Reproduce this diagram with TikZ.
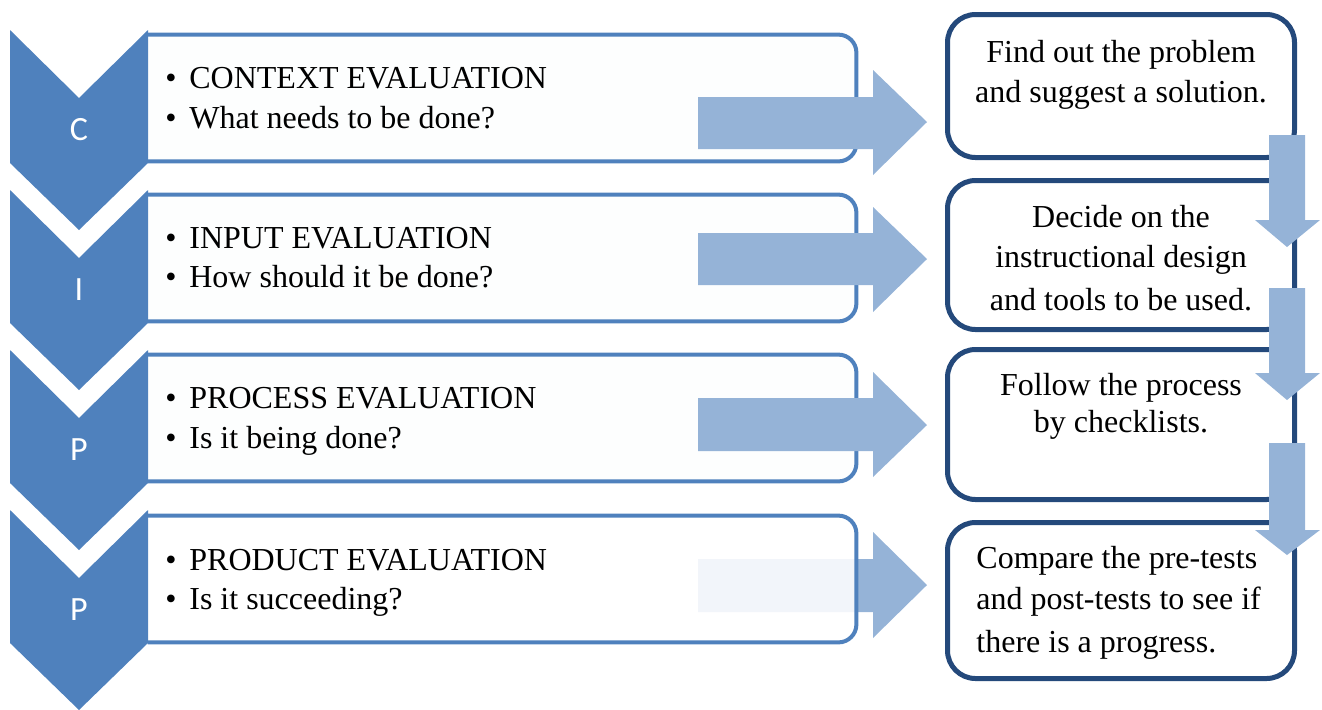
\documentclass[tikz,border=0pt]{standalone}
\usepackage{fontspec}
\setmainfont{Liberation Serif}
\newfontfamily\chevfont{Carlito}
\definecolor{chevblue}{HTML}{4F81BD}
\definecolor{arrowblue}{HTML}{95B3D7}
\definecolor{darkblue}{HTML}{24497B}
\tikzset{
  evalbox/.style={minimum width=354pt, minimum height=63pt, inner sep=0pt},
  evalline/.style={draw=chevblue, line width=2pt, fill=white!99!chevblue, rounded corners=9pt},
  stepbox/.style={draw=darkblue, line width=2.5pt, fill=white, rounded corners=14pt,
    minimum width=173.5pt, inner sep=0pt},
  letter/.style={text=white, inner sep=0pt, font=\chevfont\fontsize{17}{20}\selectfont},
  item/.style={anchor=base west, inner sep=0pt, font=\fontsize{16}{20}\selectfont},
  stepline/.style={anchor=base, inner sep=0pt, font=\fontsize{16}{20}\selectfont},
  bigarrow/.style={fill=arrowblue}
}
\newcommand{\bull}{\makebox[12pt][l]{\textbullet}}
\begin{document}
\begin{tikzpicture}[x=0.5pt, y=-0.5pt]
  \useasboundingbox (0,0) rectangle (1322,709);

  % evaluation boxes, open on the chevron side
  \node[evalbox] (ctx) at (502,98) {};
  \node[evalbox] (inp) at (502,258) {};
  \node[evalbox] (prc) at (502,418) {};
  \node[evalbox] (prd) at (502,579) {};
  \draw[evalline] (ctx.north west) -- (ctx.north east) -- (ctx.south east) -- (ctx.south west);
  \draw[evalline] (inp.north west) -- (inp.north east) -- (inp.south east) -- (inp.south west);
  \draw[evalline] (prc.north west) -- (prc.north east) -- (prc.south east) -- (prc.south west);
  \fill[bigarrow] (698,559) -- (873,559) -- (873,532) -- (927,585) -- (873,638) -- (873,612) -- (698,612) -- cycle;
  \draw[evalline, fill=white, fill opacity=0.88] (prd.north west) -- (prd.north east) -- (prd.south east) -- (prd.south west);

  % chevrons
  \fill[chevblue] (10,30) -- (79,98) -- (148,30) -- (148,163) -- (79,230) -- (10,163) -- cycle;
  \fill[chevblue] (10,190) -- (79,258) -- (148,190) -- (148,323) -- (79,390) -- (10,323) -- cycle;
  \fill[chevblue] (10,350) -- (79,418) -- (148,350) -- (148,483) -- (79,550) -- (10,483) -- cycle;
  \fill[chevblue] (10,510) -- (79,578) -- (148,510) -- (148,643) -- (79,710) -- (10,643) -- cycle;
  \node[letter] (lc) at (79,130) {C};
  \node[letter] (li) at (79,290) {I};
  \node[letter] (lpa) at (79,450) {P};
  \node[letter] (lpb) at (79,610) {P};

  \node[item] (ctxa) at (165,88) {\bull CONTEXT EVALUATION};
  \node[item] (ctxb) at (165,128) {\bull What needs to be done?};
  \node[item] (inpa) at (165,248) {\bull INPUT EVALUATION};
  \node[item] (inpb) at (165,287) {\bull How should it be done?};
  \node[item] (prca) at (165,408) {\bull PROCESS EVALUATION};
  \node[item] (prcb) at (165,448) {\bull Is it being done?};
  \node[item] (prda) at (165,570) {\bull PRODUCT EVALUATION};
  \node[item] (prdb) at (165,609) {\bull Is it succeeding?};

  % arrows to the steps
  \fill[bigarrow] (698,97) -- (873,97) -- (873,70) -- (927,122) -- (873,175) -- (873,149) -- (698,149) -- cycle;
  \fill[bigarrow] (698,233) -- (873,233) -- (873,207) -- (927,259) -- (873,312) -- (873,285) -- (698,285) -- cycle;
  \fill[bigarrow] (698,398) -- (873,398) -- (873,372) -- (927,425) -- (873,477) -- (873,451) -- (698,451) -- cycle;

  % steps
  \node[stepbox, minimum height=71.5pt] (find) at (1121,86) {};
  \node[stepbox, minimum height=74.5pt] (decide) at (1121,255) {};
  \node[stepbox, minimum height=75pt] (follow) at (1121,424.5) {};
  \node[stepbox, minimum height=78pt] (compare) at (1121,600.5) {};

  \node[stepline] (finda) at (1121,62) {Find out the problem};
  \node[stepline] (findb) at (1121,102) {and suggest a solution.};
  \node[stepline] (decidea) at (1121,227) {Decide on the};
  \node[stepline] (decideb) at (1121,267) {instructional design};
  \node[stepline] (decidec) at (1121,310) {and tools to be used.};
  \node[stepline] (followa) at (1121,395) {Follow the process};
  \node[stepline] (followb) at (1121,432) {by checklists.};
  \node[item] (comparea) at (976,568) {Compare the pre-tests};
  \node[item] (compareb) at (976,609) {and post-tests to see if};
  \node[item] (comparec) at (976,652) {there is a progress.};

  % arrows between the steps
  \fill[bigarrow] (1269,135) -- (1305,135) -- (1305,220) -- (1320,220) -- (1287,247) -- (1255,220) -- (1269,220) -- cycle;
  \fill[bigarrow] (1269,288) -- (1305,288) -- (1305,373) -- (1320,373) -- (1287,400) -- (1255,373) -- (1269,373) -- cycle;
  \fill[bigarrow] (1269,443) -- (1305,443) -- (1305,530) -- (1320,530) -- (1287,555) -- (1255,530) -- (1269,530) -- cycle;
\end{tikzpicture}
\end{document}
